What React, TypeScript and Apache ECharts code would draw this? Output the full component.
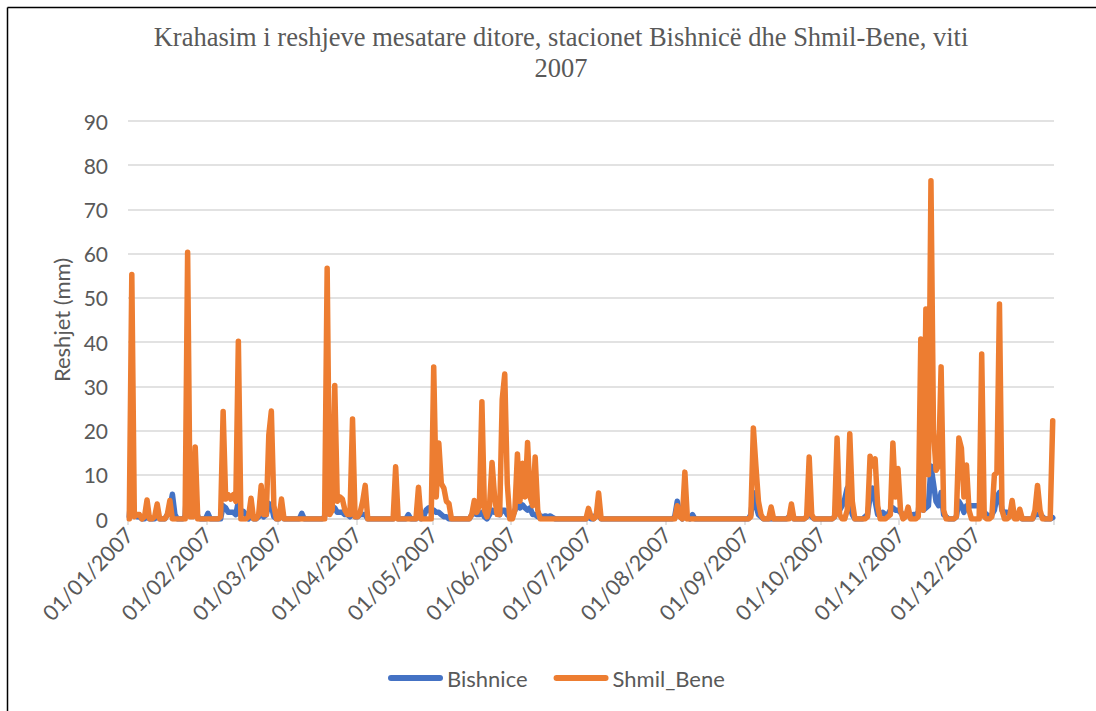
import React, { useEffect, useRef } from 'react';
import * as echarts from 'echarts';

// ---------- data ----------
const monthLengths = [31, 28, 31, 30, 31, 30, 31, 31, 30, 31, 30, 31];
const seriesNames = ['Bishnice', 'Shmil_Bene'];
const titleText = 'Krahasim i reshjeve mesatare ditore, stacionet Bishnicë dhe Shmil-Bene, viti\n2007';
const yAxisName = 'Reshjet (mm)';

const shmilJan = [0, 55.3, 0.5, 1, 1, 0, 0.5, 4.3, 0, 0, 0.5, 3.4, 0, 0, 0, 1, 4.2, 0, 0, 0, 0, 0, 0, 60.3, 0.5, 0.5, 16.3, 0, 0, 0, 0];
const shmilFeb = [0, 0, 0, 0, 0, 0.5, 24.3, 4.5, 5.5, 4.5, 5.5, 4, 40.2, 0, 0, 0, 0.5, 4.7, 0, 0, 1, 7.6, 1, 1, 19, 24.4, 3, 0];
const shmilMar = [0, 4.5, 0, 0, 0, 0, 0, 0, 0, 0, 0, 0, 0, 0, 0, 0, 0, 0, 0, 56.7, 1, 2, 30.2, 4, 5, 4.5, 2, 1, 1, 22.6, 0.5];
const shmilApr = [0.5, 1.5, 4, 7.6, 0, 0, 0, 0, 0, 0, 0, 0, 0, 0, 0, 11.8, 0, 0, 0, 0, 0, 0, 0, 0, 7.2, 0, 0, 0, 0, 0];
const shmilMay = [34.4, 5, 17.2, 8, 7, 4, 3.5, 0, 0, 0, 0, 0, 0, 0, 0, 1, 4.2, 1.5, 3, 26.5, 2, 0.5, 3, 12.8, 5, 1, 1, 27, 32.8, 8, 0];
const shmilJun = [0, 2, 14.7, 4, 12.6, 5, 17.3, 5, 3, 14, 2, 0, 0, 0, 0, 0, 0, 0, 0, 0, 0, 0, 0, 0, 0, 0, 0, 0, 0, 0];
const shmilJul = [2.4, 0.5, 0, 0.5, 5.9, 0, 0, 0, 0, 0, 0, 0, 0, 0, 0, 0, 0, 0, 0, 0, 0, 0, 0, 0, 0, 0, 0, 0, 0, 0, 0];
const shmilAug = [0, 0, 0, 0, 3, 0.5, 0, 10.6, 0, 0, 0, 0, 0, 0, 0, 0, 0, 0, 0, 0, 0, 0, 0, 0, 0, 0, 0, 0, 0, 0, 0];
const shmilSep = [0, 0, 0.5, 20.6, 12, 4, 1, 0, 0, 0, 2.7, 0, 0, 0, 0, 0, 0, 0, 3.4, 0, 0, 0, 0, 0, 0.5, 14, 1, 0, 0, 0];
const shmilOct = [0, 0, 0, 0, 0, 0.5, 18.3, 1, 0, 0, 2, 19.3, 4, 0, 0, 0, 0, 0, 0.5, 14.2, 12, 13.6, 3, 0, 0, 0, 0.5, 1, 17.2, 5, 11.4];
const shmilNov = [2, 0, 0.5, 2.7, 0, 0, 0, 0.5, 40.7, 2, 47.5, 10, 76.5, 20, 11, 12, 34.4, 2, 0, 0, 0, 0, 0.5, 18.3, 16, 5, 12.2, 2, 0, 0];
const shmilDec = [0, 0, 37.3, 0.5, 0, 0, 0.5, 10, 10.5, 48.6, 2, 0, 0, 0.5, 4.2, 0, 0, 2.2, 0, 0, 0, 0, 0, 2, 7.6, 2, 0, 0, 0, 0, 22.2];

const bishJan = [0.5, 8, 1, 0.5, 0.5, 0, 0, 1.5, 0, 0, 0, 1, 0, 0, 0, 1, 2.5, 5.6, 1, 0, 0, 0, 0.5, 10, 9.5, 3, 4, 0.5, 0, 0, 0];
const bishFeb = [1.3, 0, 0, 0, 0, 0, 3, 2.5, 1.5, 1.5, 1.5, 1, 4, 1, 1.7, 1, 0, 1, 0, 0, 0.5, 1.5, 0.5, 1, 3.5, 3, 0.5, 0];
const bishMar = [0, 1, 0, 0, 0, 0, 0, 0, 0, 1.3, 0, 0, 0, 0, 0, 0, 0, 0, 0.5, 3, 2, 2, 2.5, 1.5, 1.5, 1.5, 1, 1, 0.5, 2, 0.5];
const bishApr = [0.5, 1, 1, 1, 0, 0, 0, 0, 0, 0, 0, 0, 0, 0, 0, 1, 0, 0, 0, 0, 1, 0, 0, 0, 0.5, 0, 0.5, 2, 2.5, 1.5];
const bishMay = [2, 1.5, 1.5, 1, 0.5, 0.5, 0, 0, 0, 0, 0, 0, 0, 0, 0, 1, 1.3, 1, 1, 1.5, 0.5, 0, 1, 2, 1.5, 1.5, 1, 2, 2, 1, 0.5];
const bishJun = [0.5, 2, 3, 2.5, 3.2, 2.5, 2, 2.5, 1, 1, 0.5, 0.7, 0.5, 0.7, 0.5, 0.7, 0.3, 0, 0, 0, 0, 0, 0, 0, 0, 0, 0, 0, 0, 0];
const bishJul = [0.5, 0, 0, 1, 1, 0, 0, 0, 0, 0, 0, 0, 0, 0, 0, 0, 0, 0, 0, 0, 0, 0, 0, 0, 0, 0, 0, 0, 0, 0, 0];
const bishAug = [0, 0, 0, 0.5, 4, 1, 0, 1, 0.5, 0, 1, 0, 0, 0, 0, 0, 0, 0, 0, 0, 0, 0, 0, 0, 0, 0, 0, 0, 0, 0, 0];
const bishSep = [0, 0, 1, 6, 3, 1, 0.5, 0, 0, 0, 0, 0, 0, 0, 0, 0, 0, 0.5, 0.5, 0, 0, 0, 0, 0, 0.5, 2, 0.5, 0, 0, 0];
const bishOct = [0, 0, 0, 0, 0, 0.5, 3, 2, 3, 4.5, 7, 3, 1, 0, 0, 0, 0, 0.5, 1, 5, 7, 4, 1, 1, 1.5, 1, 1, 2, 2.5, 2, 2];
const bishNov = [1.5, 1, 1, 1, 0.5, 1, 1, 1.5, 8, 2, 2.5, 3, 12, 8, 4, 3, 6, 1, 0.5, 0, 0, 0, 0.5, 4, 3, 1.5, 3, 3, 3, 3];
const bishDec = [3, 3, 3, 1.5, 1, 0.5, 1, 2, 5, 6, 2, 1.5, 1.5, 1, 1.5, 1, 0.5, 0.5, 0, 0, 0, 0, 0, 1, 1, 1, 0.5, 0, 0, 0, 0.3];

const shmilMonths = [shmilJan, shmilFeb, shmilMar, shmilApr, shmilMay, shmilJun, shmilJul, shmilAug, shmilSep, shmilOct, shmilNov, shmilDec];
const bishMonths = [bishJan, bishFeb, bishMar, bishApr, bishMay, bishJun, bishJul, bishAug, bishSep, bishOct, bishNov, bishDec];

const pad = (n: number) => (n < 10 ? '0' + n : '' + n);
const dates: string[] = [];
monthLengths.forEach((len, m) => {
  for (let d = 1; d <= len; d++) dates.push(`${pad(d)}/${pad(m + 1)}/2007`);
});
const shmilData = shmilMonths.flat();
const bishData = bishMonths.flat();

const GRAY = '#595959';
const GRID = '#D9D9D9';

export default function App() {
  const ref = useRef<HTMLDivElement>(null);
  useEffect(() => {
    const chart = echarts.init(ref.current!, undefined, { renderer: 'svg' });
    const isMonthStart = (i: number) => !!dates[i] && dates[i].startsWith('01/');
    chart.setOption({
      animation: false,
      backgroundColor: '#ffffff',
      title: {
        text: titleText,
        left: 556,
        top: 16,
        textAlign: 'center',
        textStyle: {
          fontFamily: '"Liberation Serif", "Times New Roman", serif',
          fontSize: 26.5,
          fontWeight: 'normal',
          color: GRAY,
          lineHeight: 31,
        },
      },
      grid: { left: 128, right: 42, top: 121, bottom: 192, containLabel: false, outerBoundsMode: 'none' },
      legend: {
        data: seriesNames,
        left: 383,
        top: 662,
        itemWidth: 55,
        itemHeight: 6,
        itemGap: 26,
        icon: 'path://M3,0 H52 A3,3 0 0 1 52,6 H3 A3,3 0 0 1 3,0 Z',
        textStyle: { fontFamily: 'Lato', fontSize: 22, color: GRAY, padding: [0, 0, 0, -1] },
      },
      xAxis: {
        type: 'category',
        data: dates,
        boundaryGap: true,
        axisLine: { lineStyle: { color: GRID, width: 1.5 } },
        axisTick: { show: true, interval: (i: number) => isMonthStart(i), length: 6, lineStyle: { color: GRID, width: 1.5 } },
        axisLabel: {
          interval: (i: number) => isMonthStart(i),
          rotate: 46,
          color: GRAY,
          fontFamily: 'Lato',
          fontSize: 21.5,
          margin: 12,
        },
        splitLine: { show: false },
      },
      yAxis: {
        type: 'value',
        min: 0,
        max: 90,
        interval: 10,
        name: yAxisName,
        nameLocation: 'middle',
        nameGap: 53,
        nameTextStyle: { fontFamily: 'Lato', fontSize: 22, color: GRAY },
        axisLine: { show: false },
        axisTick: { show: false },
        axisLabel: { color: GRAY, fontFamily: 'Lato', fontSize: 21, margin: 20 },
        splitLine: { lineStyle: { color: GRID, width: 1.5 } },
      },
      series: [
        {
          name: seriesNames[0],
          type: 'line',
          data: bishData,
          showSymbol: false,
          symbol: 'none',
          color: '#4472C4',
          lineStyle: { color: '#4472C4', width: 5.5, cap: 'round', join: 'round' },
        },
        {
          name: seriesNames[1],
          type: 'line',
          data: shmilData,
          showSymbol: false,
          symbol: 'none',
          color: '#ED7D31',
          lineStyle: { color: '#ED7D31', width: 5.5, cap: 'round', join: 'round' },
        },
      ],
      graphic: [
        { type: 'line', shape: { x1: 7.5, y1: 7.5, x2: 7.5, y2: 711 }, style: { stroke: '#000', lineWidth: 1.5 } },
        { type: 'line', shape: { x1: 7.5, y1: 7.5, x2: 1096, y2: 7.5 }, style: { stroke: '#000', lineWidth: 1.5 } },
      ],
    });
    return () => chart.dispose();
  }, []);
  return <div ref={ref} style={{ position: 'fixed', left: 0, top: 0, width: 1096, height: 711 }} />;
}
